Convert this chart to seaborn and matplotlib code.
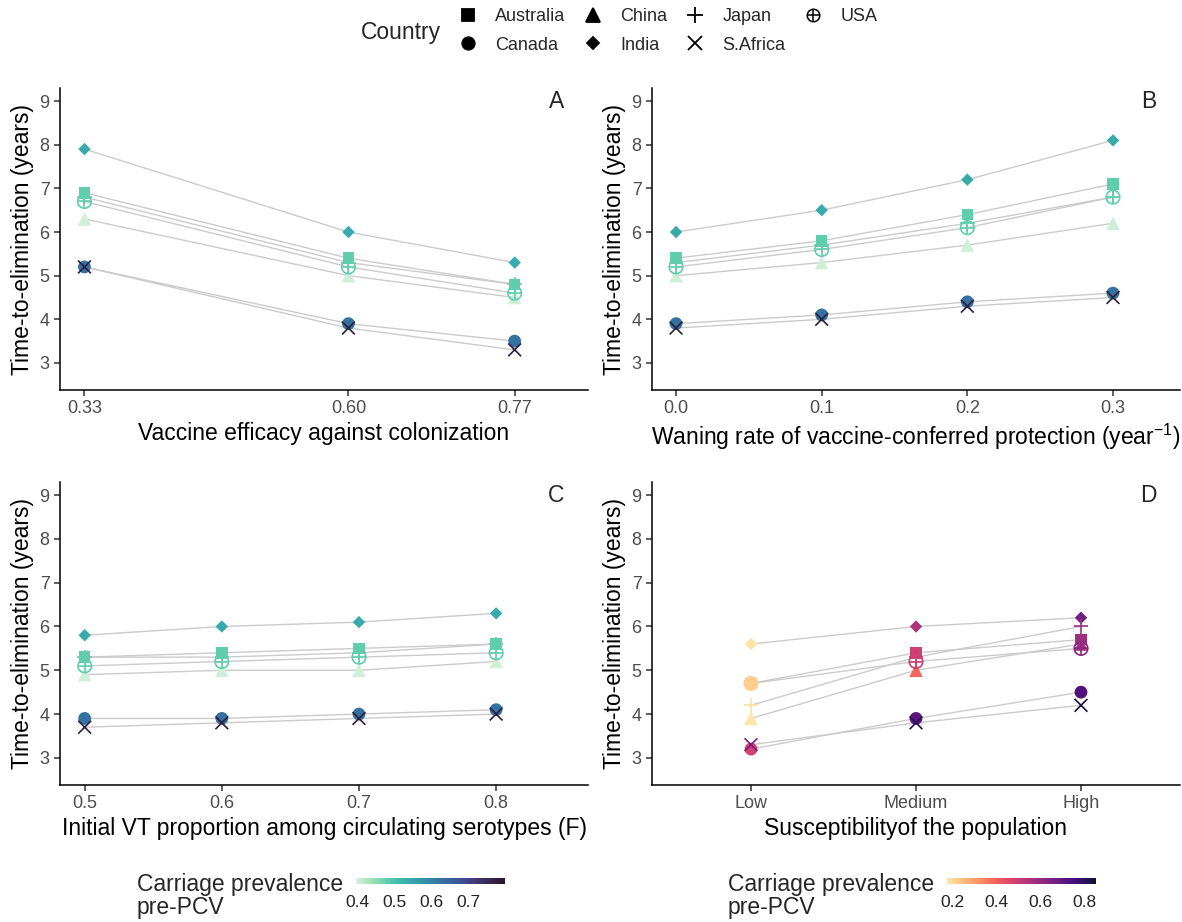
import matplotlib as mpl
import matplotlib.pyplot as plt
import numpy as np
import pandas as pd
import seaborn as sns
from matplotlib.colors import ListedColormap, Normalize
from matplotlib.lines import Line2D

countries = ["Australia", "Canada", "China", "India", "Japan", "S.Africa", "USA"]
markers = ["s", "o", "^", "D", "+", "x", "oplus"]

# carriage prevalence pre-PCV (colour of panels A-C)
prev_abc = [0.48, 0.63, 0.40, 0.54, 0.48, 0.78, 0.48]

# A: vaccine efficacy against colonization
efficacy = [0.33, 0.60, 0.77]
tte_a = [
    [6.9, 5.4, 4.8],
    [5.2, 3.9, 3.5],
    [6.3, 5.0, 4.5],
    [7.9, 6.0, 5.3],
    [6.8, 5.3, 4.8],
    [5.2, 3.8, 3.3],
    [6.7, 5.2, 4.6],
]

# B: waning rate
waning = [0.0, 0.1, 0.2, 0.3]
tte_b = [
    [5.4, 5.8, 6.4, 7.1],
    [3.9, 4.1, 4.4, 4.6],
    [5.0, 5.3, 5.7, 6.2],
    [6.0, 6.5, 7.2, 8.1],
    [5.3, 5.7, 6.2, 6.8],
    [3.8, 4.0, 4.3, 4.5],
    [5.2, 5.6, 6.1, 6.8],
]

# C: initial VT proportion
vt_prop = [0.5, 0.6, 0.7, 0.8]
tte_c = [
    [5.3, 5.4, 5.5, 5.6],
    [3.9, 3.9, 4.0, 4.1],
    [4.9, 5.0, 5.0, 5.2],
    [5.8, 6.0, 6.1, 6.3],
    [5.3, 5.3, 5.4, 5.6],
    [3.7, 3.8, 3.9, 4.0],
    [5.1, 5.2, 5.3, 5.4],
]

# D: susceptibility, prevalence changes with the level
suscept = ["Low", "Medium", "High"]
tte_d = [
    [4.7, 5.4, 5.7],
    [3.2, 3.9, 4.5],
    [3.9, 5.0, 5.6],
    [5.6, 6.0, 6.2],
    [4.2, 5.3, 6.0],
    [3.3, 3.8, 4.2],
    [4.7, 5.2, 5.5],
]
prev_d = [
    [0.22, 0.49, 0.58],
    [0.48, 0.71, 0.73],
    [0.18, 0.39, 0.57],
    [0.18, 0.55, 0.67],
    [0.19, 0.50, 0.58],
    [0.67, 0.81, 0.84],
    [0.22, 0.49, 0.62],
]


def long_frame(xvals, tte, prev):
    rows = []
    for i, c in enumerate(countries):
        for j, x in enumerate(xvals):
            p = prev[i][j] if isinstance(prev[i], list) else prev[i]
            rows.append({"x": x, "tte": tte[i][j], "country": c, "prev": p})
    return pd.DataFrame(rows)


def draw_panel(ax, df, cmap, norm):
    sns.lineplot(data=df, x="x", y="tte", units="country", estimator=None,
                 sort=False, color="#cbcbcb", lw=1.0, ax=ax, legend=False)
    for c, m in zip(countries, markers):
        sub = df[df["country"] == c]
        kw = dict(data=sub, x="x", y="tte", hue="prev", palette=cmap,
                  hue_norm=norm, ax=ax, legend=False, zorder=3)
        if m == "oplus":
            sns.scatterplot(marker="o", s=95, **kw)
            coll = ax.collections[-1]
            fc = coll.get_facecolors()
            coll.set_facecolors("none")
            coll.set_edgecolors(fc)
            coll.set_linewidth(1.2)
            sns.scatterplot(marker="+", s=95, linewidth=1.2, **kw)
        elif m in ("+", "x"):
            sns.scatterplot(marker=m, s=110 if m == "+" else 85,
                            linewidth=1.2, **kw)
        else:
            size = {"s": 70, "o": 85, "^": 95, "D": 40}[m]
            sns.scatterplot(marker=m, s=size, edgecolor="none", linewidth=0, **kw)
    ax.set_ylim(2.38, 9.3)
    ax.set_yticks(range(3, 10))
    ax.set_ylabel("Time-to-elimination (years)", labelpad=4)
    sns.despine(ax=ax)


sns.set_style("ticks")
plt.rcParams.update({
    "font.family": ["Liberation Sans", "DejaVu Sans"],
    "mathtext.fontset": "custom",
    "mathtext.rm": "Liberation Sans",
    "mathtext.it": "Liberation Sans:italic",
    "axes.linewidth": 1.1,
    "axes.edgecolor": "black",
    "axes.labelsize": 16.5,
    "axes.labelcolor": "black",
    "xtick.labelsize": 13,
    "ytick.labelsize": 13,
    "xtick.color": "#333333",
    "ytick.color": "#333333",
    "xtick.labelcolor": "#4d4d4d",
    "ytick.labelcolor": "#4d4d4d",
    "xtick.major.size": 4,
    "ytick.major.size": 4,
    "xtick.major.width": 1.1,
    "ytick.major.width": 1.1,
})

cmap_abc = ListedColormap(sns.color_palette("mako_r", as_cmap=True)(np.linspace(0.02, 0.9, 256)))
norm_abc = Normalize(0.395, 0.80)
cmap_d = ListedColormap(mpl.colormaps["magma_r"](np.linspace(0.05, 0.9, 256)))
norm_d = Normalize(0.177, 0.854)

fig = plt.figure(figsize=(11.82, 9.22), dpi=100)
W, H = 1182, 922
top_row = (1 - 390 / H, (390 - 88) / H)
bot_row = (1 - 785 / H, (785 - 482) / H)
axA = fig.add_axes([60 / W, top_row[0], 528 / W, top_row[1]])
axB = fig.add_axes([652 / W, top_row[0], 528 / W, top_row[1]])
axC = fig.add_axes([60 / W, bot_row[0], 528 / W, bot_row[1]])
axD = fig.add_axes([652 / W, bot_row[0], 528 / W, bot_row[1]])

draw_panel(axA, long_frame(efficacy, tte_a, prev_abc), cmap_abc, norm_abc)
axA.set_xticks(efficacy)
axA.set_xticklabels([f"{v:.2f}" for v in efficacy])
axA.set_xlim(0.305, 0.845)
axA.set_xlabel("Vaccine efficacy against colonization", labelpad=3)

draw_panel(axB, long_frame(waning, tte_b, prev_abc), cmap_abc, norm_abc)
axB.set_xticks(waning)
axB.set_xticklabels([f"{v:.1f}" for v in waning])
axB.set_xlim(-0.0165, 0.346)
axB.set_xlabel("Waning rate of vaccine-conferred protection (year$^{-1}$)", labelpad=3)

draw_panel(axC, long_frame(vt_prop, tte_c, prev_abc), cmap_abc, norm_abc)
axC.set_xticks(vt_prop)
axC.set_xticklabels([f"{v:.1f}" for v in vt_prop])
axC.set_xlim(0.482, 0.867)
axC.set_xlabel("Initial VT proportion among circulating serotypes (F)", labelpad=3)

draw_panel(axD, long_frame(suscept, tte_d, prev_d), cmap_d, norm_d)
axD.set_xlim(-0.6, 2.6)
axD.set_xlabel("Susceptibilityof the population", labelpad=3)

for ax, letter in zip([axA, axB, axC, axD], "ABCD"):
    ax.text(0.94, 0.955, letter, transform=ax.transAxes, ha="center",
            va="center", fontsize=16.5)

# shape legend at the top
handles = []
for m in markers:
    if m == "oplus":
        handles.append((
            Line2D([], [], ls="none", marker="o", markersize=9, markerfacecolor="none",
                   markeredgecolor="black", markeredgewidth=1.1),
            Line2D([], [], ls="none", marker="+", markersize=9, color="black",
                   markeredgewidth=1.1),
        ))
    else:
        size = {"s": 8.5, "o": 9, "^": 9.5, "D": 6.5, "+": 12, "x": 10}[m]
        handles.append(Line2D([], [], ls="none", marker=m, markersize=size,
                              color="black", markeredgewidth=1.3))
fig.text(361 / W, 1 - 32 / H, "Country", fontsize=16.5, va="center", ha="left")
fig.legend(handles, countries, ncol=4, loc="center left",
           bbox_to_anchor=(459 / W, 1 - 31 / H), frameon=False, fontsize=13,
           handlelength=1.0, handletextpad=1.0, columnspacing=1.05,
           labelspacing=0.62, borderaxespad=0, borderpad=0)

# colour bars at the bottom
for x_title, x_bar, cmap, norm, ticks in [
    (137, 356, cmap_abc, norm_abc, [0.4, 0.5, 0.6, 0.7]),
    (728, 947, cmap_d, norm_d, [0.2, 0.4, 0.6, 0.8]),
]:
    fig.text(x_title / W, 1 - 896 / H, "Carriage prevalence\npre-PCV",
             fontsize=16.5, ha="left", va="center", linespacing=1.0)
    cax = fig.add_axes([x_bar / W, 1 - 884 / H, 149 / W, 6 / H])
    cb = fig.colorbar(mpl.cm.ScalarMappable(norm=norm, cmap=cmap), cax=cax,
                      orientation="horizontal", ticks=ticks)
    cb.outline.set_visible(False)
    cax.tick_params(direction="in", length=4.3, width=1, color="white",
                    labelsize=12.5, labelcolor="#222222", pad=8)

fig.savefig("out.png", dpi=100)
